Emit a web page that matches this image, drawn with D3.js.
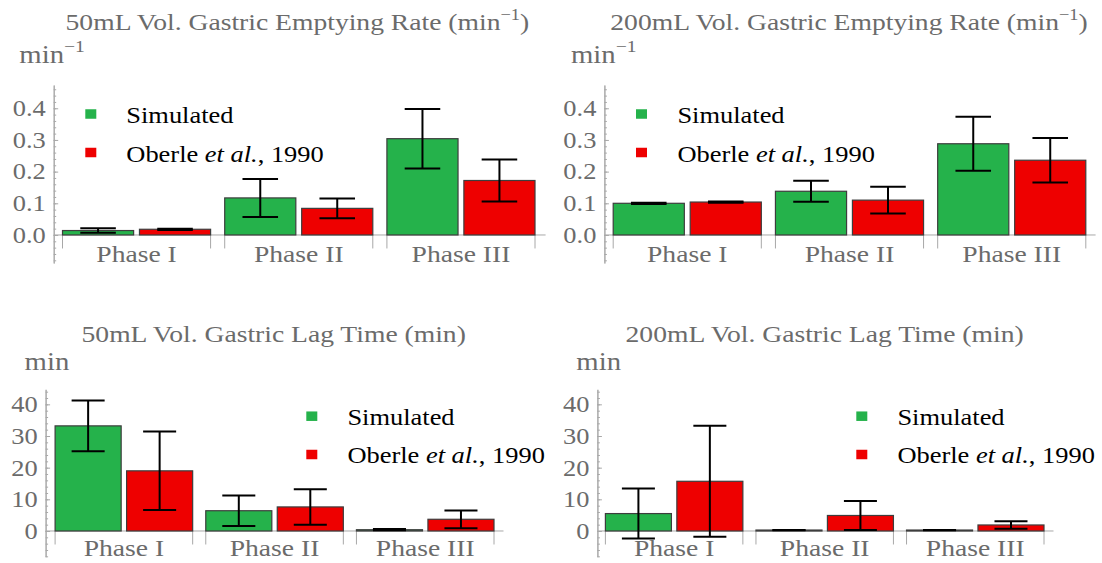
<!DOCTYPE html>
<html>
<head>
<meta charset="utf-8">
<script src="https://cdn.jsdelivr.net/npm/d3@7"></script>
<style>
  html, body { margin: 0; padding: 0; background: #fff; }
  svg { display: block; }
  text { font-family: "Liberation Serif", "Times New Roman", Times, serif; }
</style>
</head>
<body>
<svg id="chart" width="1102" height="563"></svg>
<script>
// ---- data ---------------------------------------------------------------
const phases = ["Phase I", "Phase II", "Phase III"];
const seriesKeys = ["sim", "obs"];

// gastric emptying rate (min^-1), 50 mL
const simRate50    = [0.014, 0.117, 0.304];
const simRate50Err = [0.007, 0.060, 0.094];
const obsRate50    = [0.018, 0.084, 0.172];
const obsRate50Err = [0.002, 0.031, 0.066];

// gastric emptying rate (min^-1), 200 mL
const simRate200    = [0.100, 0.138, 0.288];
const simRate200Err = [0.002, 0.033, 0.085];
const obsRate200    = [0.104, 0.110, 0.236];
const obsRate200Err = [0.002, 0.042, 0.070];

// gastric lag time (min), 50 mL
const simLag50    = [33.2, 6.4, 0.4];
const simLag50Err = [8.0, 4.8, 0.2];
const obsLag50    = [19.0, 7.6, 3.7];
const obsLag50Err = [12.4, 5.6, 2.8];

// gastric lag time (min), 200 mL
const simLag200    = [5.5, 0.3, 0.3];
const simLag200Err = [7.9, 0.05, 0.05];
const obsLag200    = [15.7, 4.9, 1.9];
const obsLag200Err = [17.5, 4.6, 1.2];

const rateTicks = [0, 0.1, 0.2, 0.3, 0.4];
const lagTicks  = [0, 10, 20, 30, 40];

// ---- style --------------------------------------------------------------
const S = 1.15;               // horizontal stretch of all lettering
const GRAY = "#6b6b6b";
const AXIS = "#a8a8a8";
const FILL = { sim: "#25b24b", obs: "#ee0000" };
const LEGEND_TEXT = { sim: ["Simulated"], obs: ["Oberle ", "et al.", ", 1990"] };

const svg = d3.select("#chart");

// text placed at (x, y) and stretched horizontally by S
function label(g, x, y, size, color, anchor) {
  return g.append("text")
    .attr("transform", `translate(${x},${y}) scale(${S},1)`)
    .attr("font-size", size)
    .attr("fill", color)
    .attr("text-anchor", anchor || "start");
}

const panels = [
  { title: ["50mL Vol. Gastric Emptying Rate (min", "\u22121", ")"], unit: ["min", "\u22121"],
    sim: simRate50, simErr: simRate50Err, obs: obsRate50, obsErr: obsRate50Err,
    ticks: rateTicks, minorStep: 0.02, fmt: d3.format(".1f"),
    domain: [-0.0885, 0.4735], yTop: 85, yBot: 263,
    axisX: 53.7, barL: 62.5, barR: 535, baseEnd: 545.6,
    titleX: 297.4, titleY: 30, unitX: 19.3, unitY: 63,
    legSqX: 85.3, legTextX: 126.3, legSqY: [114, 152.5], legBase: [123.3, 162.3], catY: 261.7 },
  { title: ["200mL Vol. Gastric Emptying Rate (min", "\u22121", ")"], unit: ["min", "\u22121"],
    sim: simRate200, simErr: simRate200Err, obs: obsRate200, obsErr: obsRate200Err,
    ticks: rateTicks, minorStep: 0.02, fmt: d3.format(".1f"),
    domain: [-0.0885, 0.4735], yTop: 85, yBot: 263,
    axisX: 604.4, barL: 613.2, barR: 1085.8, baseEnd: 1095.6,
    titleX: 849, titleY: 30, unitX: 571, unitY: 63,
    legSqX: 636, legTextX: 677.4, legSqY: [114, 152.5], legBase: [123.3, 162.3], catY: 261.7 },
  { title: ["50mL Vol. Gastric Lag Time (min)"], unit: ["min"],
    sim: simLag50, simErr: simLag50Err, obs: obsLag50, obsErr: obsLag50Err,
    ticks: lagTicks, minorStep: 2, fmt: d3.format("d"),
    domain: [-8.12, 44.75], yTop: 389.3, yBot: 556.7,
    axisX: 45.6, barL: 55.1, barR: 494, baseEnd: 503.5,
    titleX: 273.7, titleY: 341.7, unitX: 24.6, unitY: 370,
    legSqX: 306.3, legTextX: 347.4, legSqY: [416.2, 454.5], legBase: [425, 463.3], catY: 555.5 },
  { title: ["200mL Vol. Gastric Lag Time (min)"], unit: ["min"],
    sim: simLag200, simErr: simLag200Err, obs: obsLag200, obsErr: obsLag200Err,
    ticks: lagTicks, minorStep: 2, fmt: d3.format("d"),
    domain: [-8.12, 44.75], yTop: 389.3, yBot: 556.7,
    axisX: 597.4, barL: 605.4, barR: 1044, baseEnd: 1053.5,
    titleX: 824.6, titleY: 341.7, unitX: 576.3, unitY: 370,
    legSqX: 856.3, legTextX: 897.4, legSqY: [416.2, 454.5], legBase: [425, 463.3], catY: 555.5 }
];

panels.forEach(p => {
  const g = svg.append("g");

  const y = d3.scaleLinear().domain(p.domain).range([p.yBot, p.yTop]);
  const x = d3.scaleBand().domain(phases).range([p.barL, p.barR])
    .paddingInner(0.087).paddingOuter(0);
  const xs = d3.scaleBand().domain(seriesKeys).range([0, x.bandwidth()])
    .paddingInner(0.076).paddingOuter(0);

  // title and unit
  const t = label(g, p.titleX, p.titleY, 24, GRAY, "middle");
  t.append("tspan").text(p.title[0]);
  if (p.title.length > 1) {
    t.append("tspan").attr("font-size", 16).attr("dy", -10).text(p.title[1]);
    t.append("tspan").attr("dy", 10).text(p.title[2]);
  }
  const u = label(g, p.unitX, p.unitY, 25, GRAY);
  u.append("tspan").text(p.unit[0]);
  if (p.unit.length > 1) u.append("tspan").attr("font-size", 17).attr("dy", -11.5).text(p.unit[1]);

  // y axis: minor ticks, then major ticks with labels
  const lo = Math.ceil(p.domain[0] / p.minorStep), hi = Math.floor(p.domain[1] / p.minorStep);
  const minor = d3.range(lo, hi + 1).map(i => +(i * p.minorStep).toFixed(4));
  const minorAxis = g.append("g").attr("transform", `translate(${p.axisX},0)`)
    .call(d3.axisLeft(y).tickValues(minor).tickSizeInner(-2.5).tickSizeOuter(0).tickFormat(""));
  const majorAxis = g.append("g").attr("transform", `translate(${p.axisX},0)`)
    .call(d3.axisLeft(y).tickValues(p.ticks).tickSizeInner(-4.5).tickSizeOuter(0)
      .tickPadding(8).tickFormat(p.fmt));
  [minorAxis, majorAxis].forEach(a => {
    a.select(".domain").attr("stroke", AXIS).attr("stroke-width", 1);
    a.selectAll(".tick line").attr("stroke", AXIS).attr("stroke-width", 1);
  });
  majorAxis.selectAll(".tick text")
    .attr("font-family", null).attr("font-size", 23).attr("fill", GRAY)
    .attr("x", -8 / S).attr("transform", `scale(${S},1)`);

  // baseline and category separators
  g.append("line").attr("x1", p.axisX).attr("x2", p.baseEnd)
    .attr("y1", y(0)).attr("y2", y(0)).attr("stroke", AXIS).attr("stroke-width", 1);
  phases.forEach(ph => {
    [x(ph), x(ph) + x.bandwidth()].forEach(ex => {
      g.append("line").attr("x1", ex).attr("x2", ex)
        .attr("y1", y(0)).attr("y2", y(0) + 13.5)
        .attr("stroke", AXIS).attr("stroke-width", 1);
    });
    label(g, x(ph) + x.bandwidth() / 2, p.catY, 24, GRAY, "middle").text(ph);
  });

  // bars
  const rows = [];
  phases.forEach((ph, i) => {
    rows.push({ ph, key: "sim", v: p.sim[i], e: p.simErr[i] });
    rows.push({ ph, key: "obs", v: p.obs[i], e: p.obsErr[i] });
  });
  g.selectAll("rect.bar").data(rows).join("rect").attr("class", "bar")
    .attr("x", d => x(d.ph) + xs(d.key))
    .attr("width", xs.bandwidth())
    .attr("y", d => y(d.v))
    .attr("height", d => y(0) - y(d.v))
    .attr("fill", d => FILL[d.key])
    .attr("stroke", "#3d3d3d").attr("stroke-width", 1.2);

  // error bars
  const cap = xs.bandwidth() * 0.25;
  const eb = g.selectAll("g.err").data(rows).join("g").attr("class", "err")
    .attr("stroke", "#000").attr("stroke-width", 2);
  eb.append("line")
    .attr("x1", d => x(d.ph) + xs(d.key) + xs.bandwidth() / 2)
    .attr("x2", d => x(d.ph) + xs(d.key) + xs.bandwidth() / 2)
    .attr("y1", d => y(d.v + d.e)).attr("y2", d => y(d.v - d.e));
  [1, -1].forEach(sgn => {
    eb.append("line")
      .attr("x1", d => x(d.ph) + xs(d.key) + xs.bandwidth() / 2 - cap)
      .attr("x2", d => x(d.ph) + xs(d.key) + xs.bandwidth() / 2 + cap)
      .attr("y1", d => y(d.v + sgn * d.e)).attr("y2", d => y(d.v + sgn * d.e));
  });

  // legend
  seriesKeys.forEach((k, i) => {
    g.append("rect").attr("x", p.legSqX).attr("y", p.legSqY[i] - 4.75)
      .attr("width", 11).attr("height", 9.5).attr("fill", FILL[k]);
    const lt = label(g, p.legTextX, p.legBase[i], 23, "#000");
    LEGEND_TEXT[k].forEach((s, j) => {
      const ts = lt.append("tspan").text(s);
      if (j === 1) ts.attr("font-style", "italic");
    });
  });
});
</script>
</body>
</html>
